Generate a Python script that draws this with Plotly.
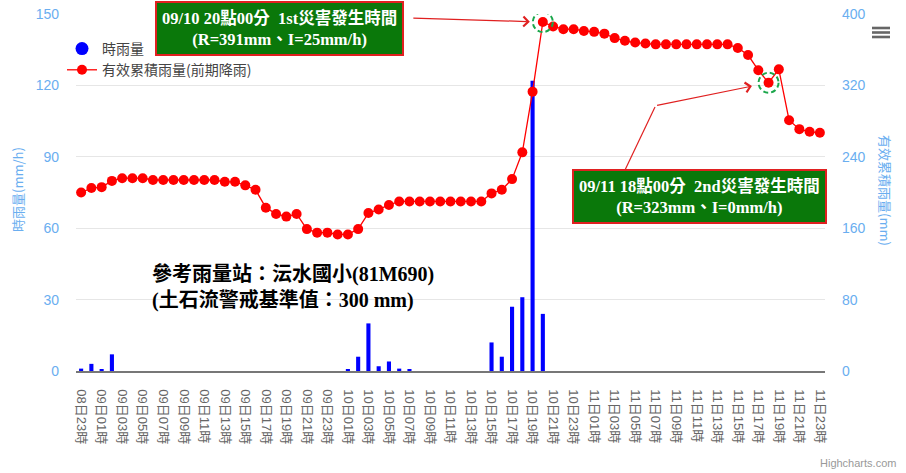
import plotly.graph_objects as go

categories = [
    "08日23時",
    "09日00時", "09日01時", "09日02時", "09日03時", "09日04時", "09日05時",
    "09日06時", "09日07時", "09日08時", "09日09時", "09日10時", "09日11時",
    "09日12時", "09日13時", "09日14時", "09日15時", "09日16時", "09日17時",
    "09日18時", "09日19時", "09日20時", "09日21時", "09日22時", "09日23時",
    "10日00時", "10日01時", "10日02時", "10日03時", "10日04時", "10日05時",
    "10日06時", "10日07時", "10日08時", "10日09時", "10日10時", "10日11時",
    "10日12時", "10日13時", "10日14時", "10日15時", "10日16時", "10日17時",
    "10日18時", "10日19時", "10日20時", "10日21時", "10日22時", "10日23時",
    "11日00時", "11日01時", "11日02時", "11日03時", "11日04時", "11日05時",
    "11日06時", "11日07時", "11日08時", "11日09時", "11日10時", "11日11時",
    "11日12時", "11日13時", "11日14時", "11日15時", "11日16時", "11日17時",
    "11日18時", "11日19時", "11日20時", "11日21時", "11日22時", "11日23時",
]

hourly_rain = [
    1, 3, 0.5, 7, 0, 0, 0, 0, 0, 0, 0, 0, 0, 0, 0, 0, 0, 0, 0, 0, 0, 0, 0, 0,
    0, 0, 0.5, 6, 20, 2, 4, 1, 0.5, 0, 0, 0, 0, 0, 0, 0, 12, 6, 27, 31, 122, 24,
    0, 0, 0, 0, 0, 0, 0, 0, 0, 0, 0, 0, 0, 0, 0, 0, 0, 0, 0, 0, 0, 0, 0, 0, 0, 0, 0,
]

effective_rain = [
    200, 205, 206, 213, 216, 216, 216, 214, 214, 214, 214, 214, 214, 214, 212, 212,
    208, 203, 183, 176, 173, 176, 159, 155, 155, 153, 153, 159, 177, 181, 186, 190,
    190, 190, 190, 190, 190, 190, 190, 190, 199, 203, 215, 245, 313, 391, 386, 383,
    383, 381, 380, 378, 373, 370, 368, 367, 366, 366, 366, 366, 366, 366, 366, 366,
    362, 354, 337, 323, 338, 281, 271, 268, 267,
]

tick_labels = categories[::2]

event1_idx = 45
event2_idx = 67

W, H = 906, 473
# plot area in window pixels
L, R, T, B = 76, 825, 14, 371


def px(x):
    return (x - L) / (R - L)


def py(y):
    return (B - y) / (B - T)


blue_axis = "#6aaef0"
serif = "Liberation Serif, Noto Sans CJK TC, serif"

fig = go.Figure()

fig.add_trace(go.Bar(
    x=categories, y=hourly_rain, name="時雨量",
    marker=dict(color="#0000ff", line=dict(width=0)),
    showlegend=False, yaxis="y",
))
fig.add_trace(go.Scatter(
    x=[None], y=[None], mode="markers", name="時雨量",
    marker=dict(color="#0000ff", size=13, symbol="circle"),
    yaxis="y",
))
fig.add_trace(go.Scatter(
    x=categories, y=effective_rain, name="有效累積雨量(前期降雨)",
    mode="lines+markers",
    line=dict(color="#ff0000", width=1.3),
    marker=dict(color="#ff0000", size=10),
    yaxis="y2",
))

annotations = [
    dict(
        xref="paper", yref="paper", x=px(279), y=py(28.5),
        text="<b>09/10 20點00分  1st災害發生時間<br>(R=391mm、I=25mm/h)</b>",
        showarrow=False, font=dict(family=serif, size=16.5, color="white"),
        bgcolor="#0a780a", bordercolor="#e02020", borderwidth=2, borderpad=5,
        align="center", xanchor="center", yanchor="middle",
    ),
    dict(
        xref="paper", yref="paper", x=px(699), y=py(197),
        text="<b>09/11 18點00分  2nd災害發生時間<br>(R=323mm、I=0mm/h)</b>",
        showarrow=False, font=dict(family=serif, size=16.5, color="white"),
        bgcolor="#0a780a", bordercolor="#e02020", borderwidth=2, borderpad=5,
        align="center", xanchor="center", yanchor="middle",
    ),
    dict(
        xref="x", yref="y2", x=categories[event1_idx], y=effective_rain[event1_idx],
        text="", showarrow=True, arrowhead=4, arrowsize=1.6, arrowwidth=1.2,
        arrowcolor="#e02020", ax=-131, ay=-4, standoff=13,
    ),
    dict(
        xref="x", yref="y2", x=categories[event2_idx], y=effective_rain[event2_idx],
        text="", showarrow=True, arrowhead=4, arrowsize=1.6, arrowwidth=1.2,
        arrowcolor="#e02020", ax=-113, ay=23, standoff=17,
    ),
    dict(
        xref="paper", yref="paper", x=px(150), y=py(287),
        text="<b>參考雨量站：沄水國小(81M690)<br>(土石流警戒基準值：300 mm)</b>",
        showarrow=False, font=dict(family=serif, size=20, color="black"),
        align="left", xanchor="left", yanchor="middle",
    ),
    dict(
        xref="paper", yref="paper", x=px(17), y=py(190),
        text="時雨量(mm/h)", textangle=-90, showarrow=False,
        font=dict(family="Noto Sans CJK TC, Liberation Sans", size=13, color=blue_axis),
        xanchor="center", yanchor="middle",
    ),
    dict(
        xref="paper", yref="paper", x=px(886), y=py(190),
        text="有效累積雨量(mm)", textangle=90, showarrow=False,
        font=dict(family="Noto Sans CJK TC, Liberation Sans", size=13, color=blue_axis),
        xanchor="center", yanchor="middle",
    ),
    dict(
        xref="paper", yref="paper", x=px(858), y=py(463),
        text="Highcharts.com", showarrow=False,
        font=dict(family="Liberation Sans", size=11, color="#999999"),
        xanchor="center", yanchor="middle",
    ),
]

shapes = [
    dict(type="circle", xref="x", yref="y2", xsizemode="pixel", ysizemode="pixel",
         xanchor=categories[event1_idx], yanchor=effective_rain[event1_idx],
         x0=-10, x1=10, y0=-10, y1=10,
         line=dict(color="#1aa64a", width=2, dash="5px,3px")),
    dict(type="circle", xref="x", yref="y2", xsizemode="pixel", ysizemode="pixel",
         xanchor=categories[event2_idx], yanchor=effective_rain[event2_idx],
         x0=-10, x1=10, y0=-10, y1=10,
         line=dict(color="#1aa64a", width=2, dash="5px,3px")),
    dict(type="line", xref="paper", yref="paper",
         x0=px(625), y0=py(170), x1=px(655), y1=py(107),
         line=dict(color="#e02020", width=1.2)),
]
for yy in (28, 32.5, 37):
    shapes.append(dict(type="line", xref="paper", yref="paper",
                       x0=px(872), x1=px(890), y0=py(yy), y1=py(yy),
                       line=dict(color="#666666", width=2.6)))

fig.update_layout(
    width=W, height=H,
    margin=dict(l=L, r=W - R, t=T, b=H - B, pad=0, autoexpand=False),
    paper_bgcolor="white", plot_bgcolor="white",
    bargap=0.6,
    font=dict(family="Noto Sans CJK TC, Liberation Sans", color="#333333"),
    xaxis=dict(
        type="category", categoryorder="array", categoryarray=categories,
        tickmode="array", tickvals=tick_labels, ticktext=tick_labels,
        tickangle=90, tickfont=dict(size=13, color="#666666",
                                    family="Liberation Sans, Noto Sans CJK TC"),
        showline=True, linecolor="#777777", linewidth=1.5,
        showgrid=False, ticks="", ticklabelstandoff=14,
        range=[-0.5, len(categories) - 0.5], automargin=False,
    ),
    yaxis=dict(
        range=[0, 150], tickvals=[0, 30, 60, 90, 120, 150],
        tickfont=dict(size=14, color=blue_axis, family="Liberation Sans"),
        gridcolor="#e6e6e6", gridwidth=1, zeroline=False,
        ticks="", ticklabelstandoff=16, automargin=False,
        ticklabeloverflow="allow",
    ),
    yaxis2=dict(
        range=[0, 400], tickvals=[0, 80, 160, 240, 320, 400],
        overlaying="y", side="right",
        tickfont=dict(size=14, color=blue_axis, family="Liberation Sans"),
        showgrid=False, zeroline=False, ticks="", ticklabelstandoff=16,
        automargin=False, ticklabeloverflow="allow",
    ),
    legend=dict(
        x=px(62), y=py(33), xanchor="left", yanchor="top",
        bgcolor="rgba(0,0,0,0)", font=dict(size=14, color="#444444"),
        tracegroupgap=0, itemwidth=30,
    ),
    annotations=annotations,
    shapes=shapes,
)

fig.write_html(
    "out.html",
    config={"displayModeBar": False},
    post_script="document.body.style.margin='0';document.body.style.overflow='hidden';",
)
